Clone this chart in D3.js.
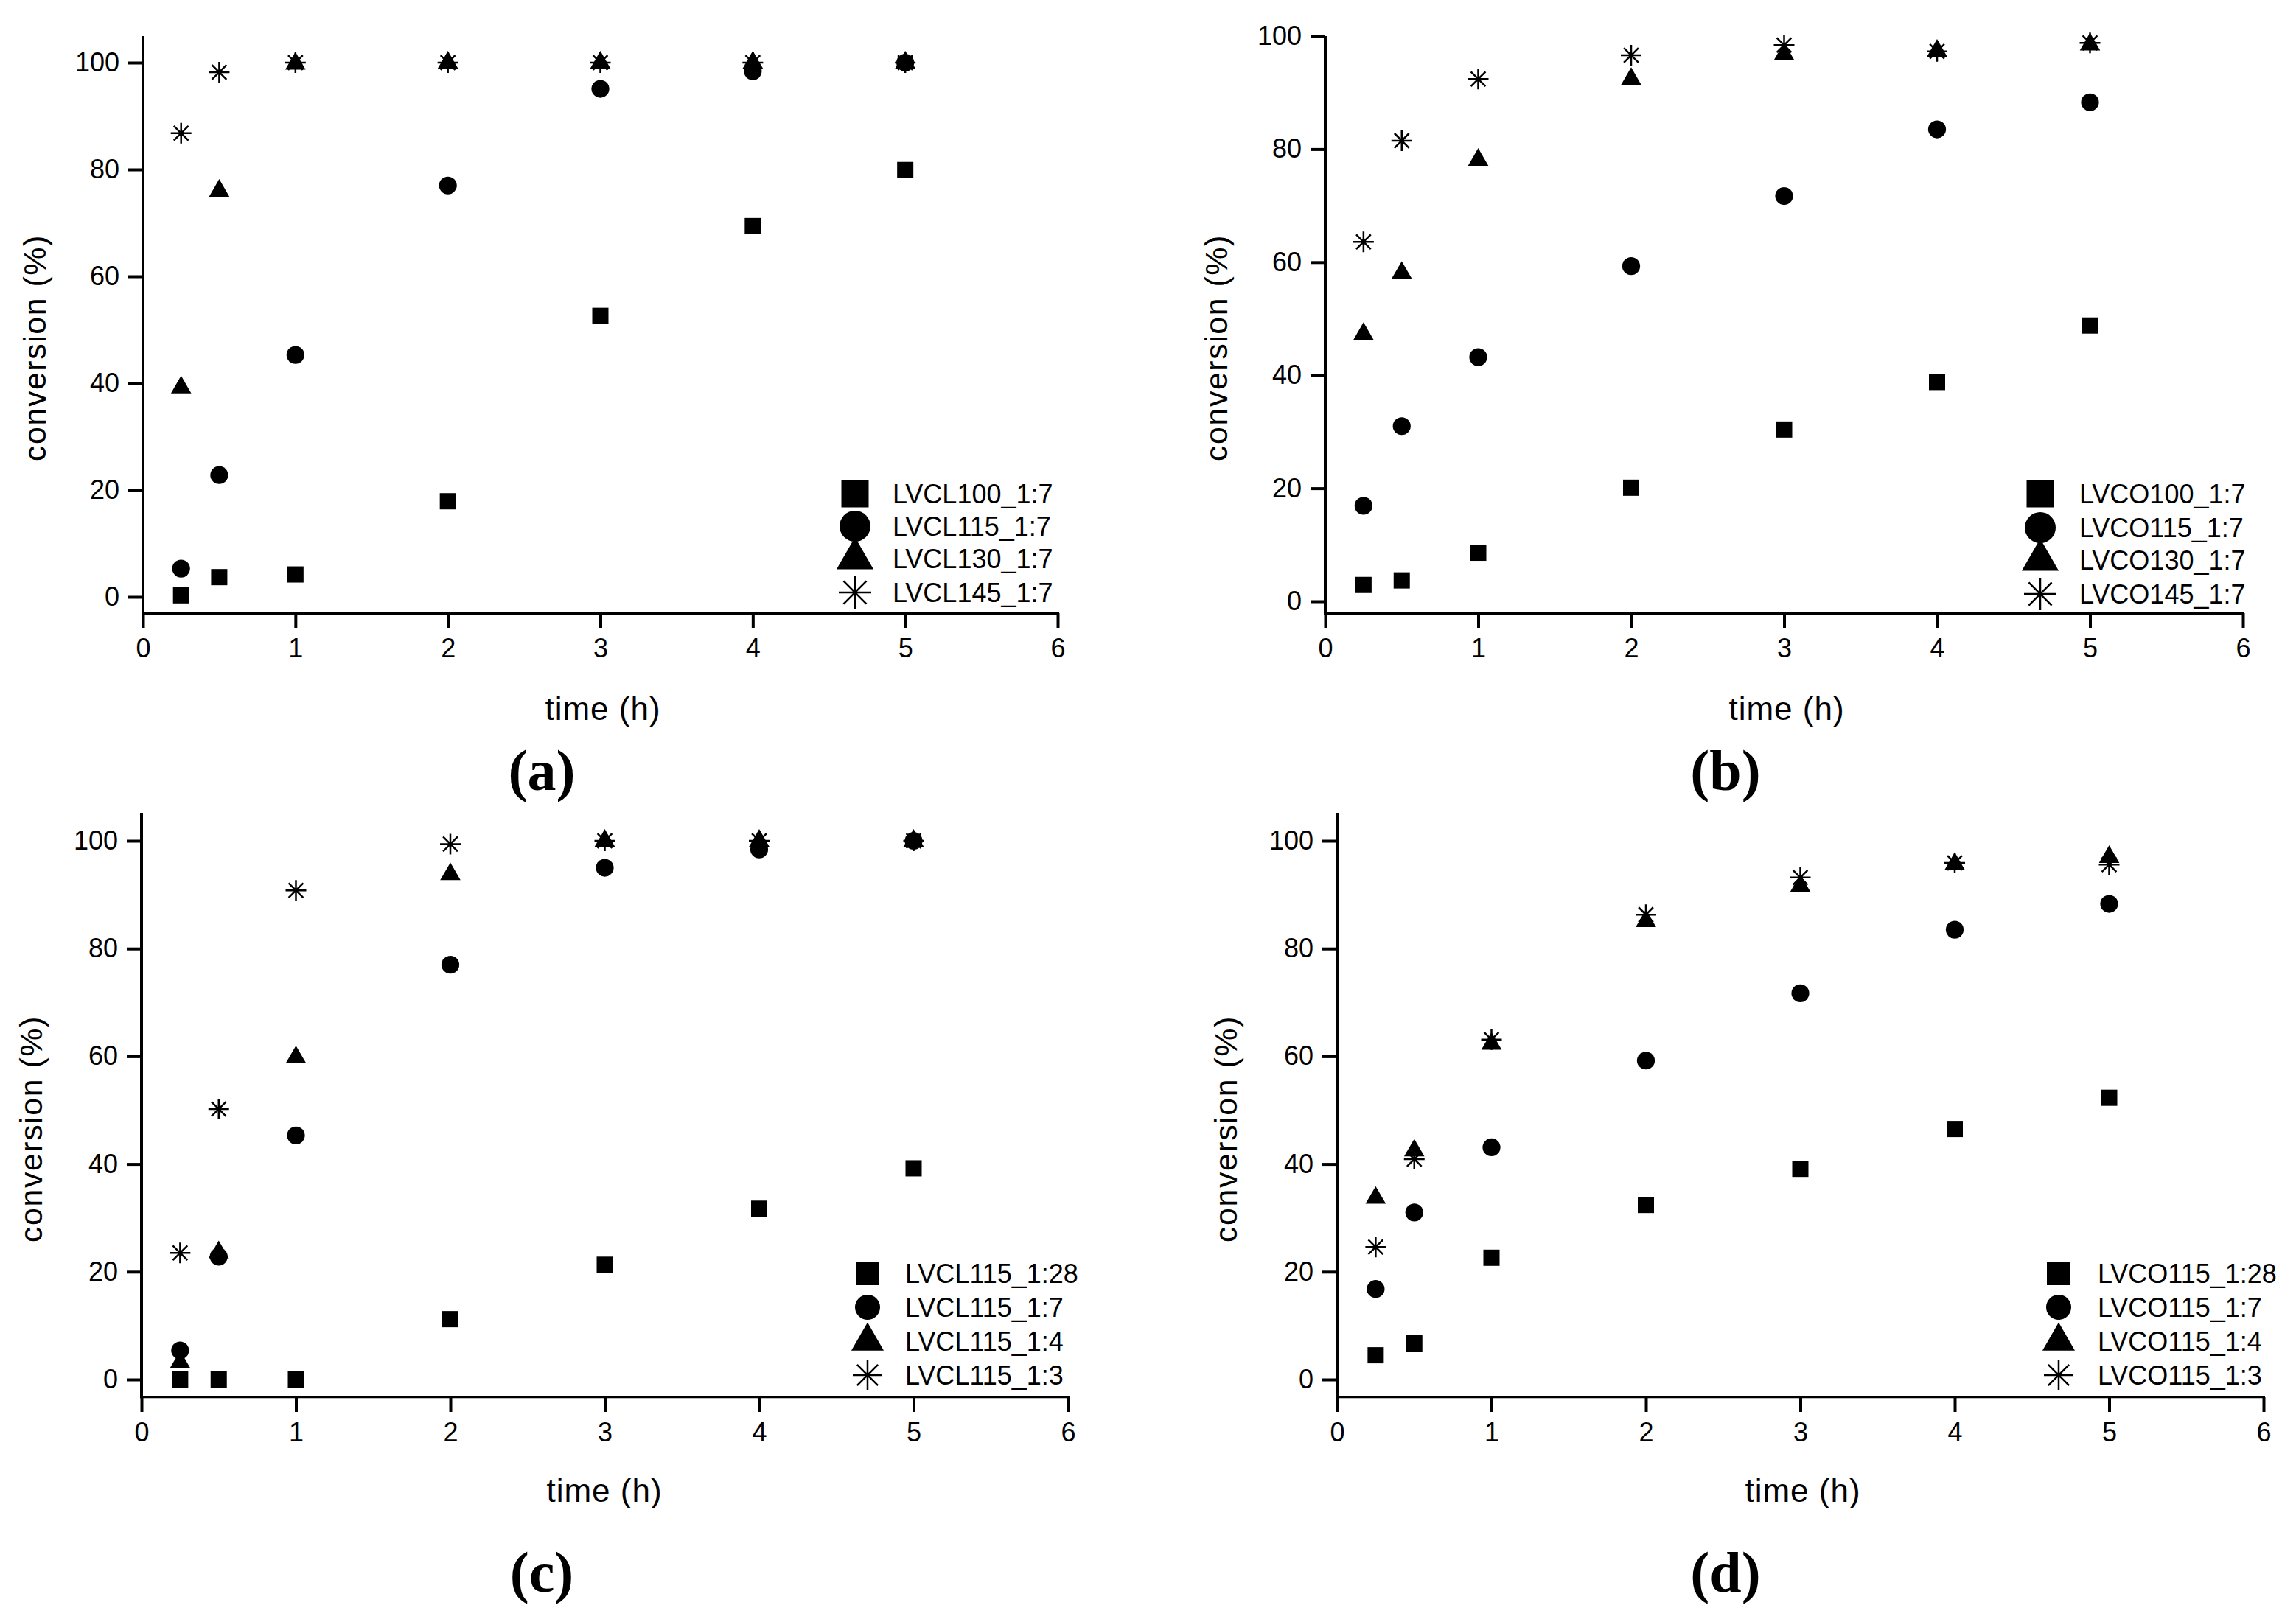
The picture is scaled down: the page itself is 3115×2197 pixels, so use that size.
<!DOCTYPE html>
<html>
<head>
<meta charset="utf-8">
<script src="https://cdn.jsdelivr.net/npm/d3@7"></script>
<style>
  html, body { margin: 0; padding: 0; background: #fff; }
  svg { display: block; }
  text { font-family: "Liberation Sans", Arial, sans-serif; fill: #000; }
</style>
</head>
<body>
<svg id="chart" width="3115" height="2197"></svg>
<script>
// sampling times (h)
var times = [0.25, 0.5, 1, 2, 3, 4, 5];
var xTicks = [0, 1, 2, 3, 4, 5, 6];
var yTicks = [0, 20, 40, 60, 80, 100];

// (a) LVCL, ratio 1:7, temperature series
var namesA = ['LVCL100_1:7', 'LVCL115_1:7', 'LVCL130_1:7', 'LVCL145_1:7'];
var lvcl100_17 = [0.3, 3.7, 4.2, 17.9, 52.6, 69.4, 79.9];
var lvcl115_17 = [5.3, 22.8, 45.3, 77.0, 95.1, 98.4, 100];
var lvcl130_17 = [39.2, 76.0, 99.8, 100, 100, 100, 100];
var lvcl145_17 = [86.8, 98.2, 100, 100, 100, 100, 100];

// (b) LVCO, ratio 1:7
var namesB = ['LVCO100_1:7', 'LVCO115_1:7', 'LVCO130_1:7', 'LVCO145_1:7'];
var lvco100_17 = [2.9, 3.7, 8.6, 20.1, 30.4, 38.8, 48.8];
var lvco115_17 = [16.9, 31.0, 43.2, 59.3, 71.7, 83.5, 88.3];
var lvco130_17 = [47.3, 58.1, 78.1, 92.4, 96.8, 97.4, 98.5];
var lvco145_17 = [63.6, 81.5, 92.4, 96.6, 98.4, 97.3, 98.8];

// (c) LVCL115, ratio series
var namesC = ['LVCL115_1:28', 'LVCL115_1:7', 'LVCL115_1:4', 'LVCL115_1:3'];
var lvcl115_128 = [0, 0, 0, 11.2, 21.3, 31.7, 39.2];
var lvcl115_17c = [5.4, 22.8, 45.3, 77.0, 95.0, 98.4, 100];
var lvcl115_14 = [3.2, 23.6, 59.8, 93.8, 100, 100, 100];
var lvcl115_13 = [23.5, 50.2, 90.8, 99.4, 100, 100, 100];

// (d) LVCO115, ratio series
var namesD = ['LVCO115_1:28', 'LVCO115_1:7', 'LVCO115_1:4', 'LVCO115_1:3'];
var lvco115_128 = [4.5, 6.7, 22.6, 32.4, 39.1, 46.5, 52.3];
var lvco115_17d = [16.8, 31.0, 43.1, 59.2, 71.7, 83.5, 88.3];
var lvco115_14 = [33.7, 42.5, 62.3, 85.1, 91.6, 95.7, 97.0];
var lvco115_13 = [24.6, 40.9, 63.1, 86.3, 93.2, 95.9, 95.6];

var panels = [
    { tag: '(a)', names: namesA, series: [lvcl100_17, lvcl115_17, lvcl130_17, lvcl145_17],
      x0: 194, x6: 1435, y0: 810, y100: 85, yAxisTop: 49, xAxisY: 832, xw: 4,
      ylabX: 62, ylabY: 472, xlabX: 818, xlabY: 977, tagX: 735, tagY: 1072,
      legX: 1160, legTextX: 1211, legY: [670, 714, 758, 804], legBig: 1 },
    { tag: '(b)', names: namesB, series: [lvco100_17, lvco115_17, lvco130_17, lvco145_17],
      x0: 1798, x6: 3043, y0: 816, y100: 49, yAxisTop: 49, xAxisY: 832, xw: 4,
      ylabX: 1665, ylabY: 472, xlabX: 2424, xlabY: 977, tagX: 2341, tagY: 1072,
      legX: 2768, legTextX: 2821, legY: [670, 716, 760, 806], legBig: 1 },
    { tag: '(c)', names: namesC, series: [lvcl115_128, lvcl115_17c, lvcl115_14, lvcl115_13],
      x0: 192, x6: 1449, y0: 1872, y100: 1141, yAxisTop: 1103, xAxisY: 1896, xw: 2.5,
      ylabX: 57, ylabY: 1532, xlabX: 820, xlabY: 2038, tagX: 735, tagY: 2160,
      legX: 1177, legTextX: 1228, legY: [1728, 1774, 1820, 1866], legBig: 0 },
    { tag: '(d)', names: namesD, series: [lvco115_128, lvco115_17d, lvco115_14, lvco115_13],
      x0: 1814, x6: 3071, y0: 1872, y100: 1141, yAxisTop: 1103, xAxisY: 1896, xw: 2.5,
      ylabX: 1678, ylabY: 1532, xlabX: 2446, xlabY: 2038, tagX: 2341, tagY: 2160,
      legX: 2793, legTextX: 2846, legY: [1728, 1774, 1820, 1866], legBig: 0 }
];

// asterisk: vertical, horizontal and two diagonal strokes
function asterisk(r) {
    let d = r * Math.SQRT1_2;
    return 'M0,' + (-r) + 'L0,' + r +
        'M' + (-r) + ',0L' + r + ',0' +
        'M' + (-d) + ',' + (-d) + 'L' + d + ',' + d +
        'M' + (-d) + ',' + d + 'L' + d + ',' + (-d);
}

function marker(g, kind, big, small) {
    let s = big ? [1369, 1385, 1090, 22] : (small ? [1024, 910, 840, 20] : [484, 460, 330, 14]);
    if (kind == 3) {
        return g.append('path').attr('d', asterisk(s[3])).attr('fill', 'none')
            .attr('stroke', '#000').attr('stroke-width', 2.5);
    }
    let type = [d3.symbolSquare, d3.symbolCircle, d3.symbolTriangle][kind];
    return g.append('path').attr('d', d3.symbol().type(type).size(s[kind])()).attr('fill', '#000');
}

var svg = d3.select('#chart');
svg.append('rect').attr('width', 3115).attr('height', 2197).attr('fill', '#fff');

panels.forEach((p) => {
    let x = d3.scaleLinear().domain([0, 6]).range([p.x0, p.x6]);
    let y = d3.scaleLinear().domain([0, 100]).range([p.y0, p.y100]);
    let g = svg.append('g');

    // y axis
    let ya = g.append('g').attr('transform', 'translate(' + p.x0 + ',0)')
        .call(d3.axisLeft(y).tickValues(yTicks).tickFormat(d3.format('d')).tickSize(20).tickPadding(12).tickSizeOuter(0));
    ya.select('.domain').remove();
    ya.selectAll('.tick line').attr('stroke', '#000').attr('stroke-width', 4);
    ya.selectAll('.tick text').attr('font-size', 36).attr('font-family', '"Liberation Sans", Arial, sans-serif').attr('fill', '#000');
    g.append('line').attr('x1', p.x0).attr('x2', p.x0)
        .attr('y1', p.yAxisTop).attr('y2', p.xAxisY + p.xw / 2)
        .attr('stroke', '#000').attr('stroke-width', 4);

    // x axis
    let xa = g.append('g').attr('transform', 'translate(0,' + p.xAxisY + ')')
        .call(d3.axisBottom(x).tickValues(xTicks).tickFormat(d3.format('d')).tickSize(20).tickPadding(14).tickSizeOuter(0));
    xa.select('.domain').remove();
    xa.selectAll('.tick line').attr('stroke', '#000').attr('stroke-width', 4);
    xa.selectAll('.tick text').attr('font-size', 36).attr('font-family', '"Liberation Sans", Arial, sans-serif').attr('fill', '#000');
    g.append('line').attr('x1', p.x0 - 2).attr('x2', p.x6 + 2)
        .attr('y1', p.xAxisY).attr('y2', p.xAxisY)
        .attr('stroke', '#000').attr('stroke-width', p.xw);

    // axis titles
    g.append('text').attr('transform', 'translate(' + p.ylabX + ',' + p.ylabY + ') rotate(-90)')
        .attr('text-anchor', 'middle').attr('font-size', 43).attr('letter-spacing', 1.5)
        .text('conversion (%)');
    g.append('text').attr('x', p.xlabX).attr('y', p.xlabY)
        .attr('text-anchor', 'middle').attr('font-size', 44).attr('letter-spacing', 1)
        .text('time (h)');
    g.append('text').attr('x', p.tagX).attr('y', p.tagY)
        .attr('text-anchor', 'middle').attr('font-size', 78).attr('font-weight', 'bold')
        .style('font-family', '"Liberation Serif", "DejaVu Serif", serif')
        .text(p.tag);

    // points
    p.series.forEach((vals, k) => {
        vals.forEach((v, i) => {
            marker(g, k, false, false)
                .attr('transform', 'translate(' + x(times[i]) + ',' + y(v) + ')');
        });
    });

    // legend
    p.names.forEach((name, k) => {
        marker(g, k, p.legBig == 1, p.legBig == 0)
            .attr('transform', 'translate(' + p.legX + ',' + p.legY[k] + ')');
        g.append('text').attr('x', p.legTextX).attr('y', p.legY[k]).attr('dy', '0.36em')
            .attr('font-size', 36).text(name);
    });
});
</script>
</body>
</html>
